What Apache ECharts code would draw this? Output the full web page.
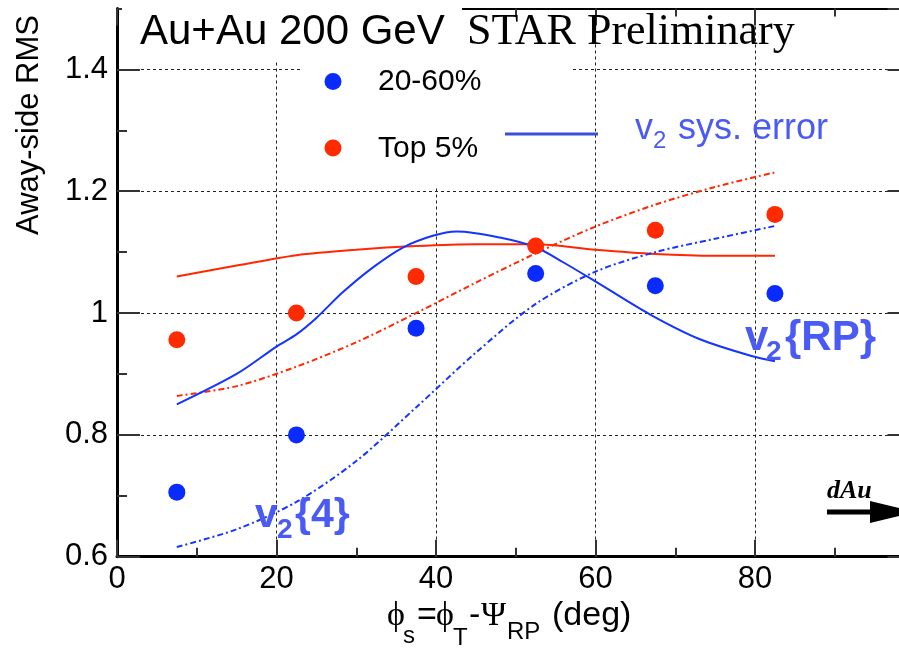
<!DOCTYPE html>
<html><head><meta charset="utf-8">
<script src="https://cdn.jsdelivr.net/npm/echarts@6/dist/echarts.min.js"></script>
<style>html,body{margin:0;padding:0;background:#fff}#c{width:899px;height:650px}</style>
</head><body><div id="c"></div>
<script>
// ---- data ----
const phiS = [7.5, 22.5, 37.5, 52.5, 67.5, 82.5];
const rmsCent2060 = [0.706, 0.800, 0.975, 1.065, 1.045, 1.032];
const rmsTop5 = [0.956, 1.000, 1.060, 1.110, 1.136, 1.162];

const top5RPx = [7.5, 15, 22.5, 30, 37.5, 45, 52.5, 60, 67.5, 75, 82.5];
const top5RPy = [1.060, 1.078, 1.095, 1.104, 1.110, 1.113, 1.113, 1.104, 1.097, 1.094, 1.094];

const top5V4x = [7.5, 15, 22.5, 30, 37.5, 45, 52.5, 60, 67.5, 75, 82.5];
const top5V4y = [0.864, 0.880, 0.912, 0.952, 1.000, 1.050, 1.098, 1.142, 1.178, 1.207, 1.231];

const centRPx = [7.5, 15, 20, 22.5, 25, 28.3, 32.1, 35.9, 39.6, 42.6, 48, 52.5, 56, 60.6, 66.8, 73.1, 79.7, 82.5];
const centRPy = [0.850, 0.900, 0.945, 0.965, 0.992, 1.034, 1.075, 1.108, 1.127, 1.134, 1.124, 1.108, 1.083, 1.047, 0.998, 0.957, 0.929, 0.921];

const centV4x = [7.5, 15, 22.5, 30, 37.5, 45, 52.5, 60, 67.5, 75, 82.5];
const centV4y = [0.616, 0.645, 0.690, 0.757, 0.845, 0.935, 1.015, 1.068, 1.100, 1.122, 1.143];

const xTicks = [0, 20, 40, 60, 80];
const yTicks = [0.6, 0.8, 1, 1.2, 1.4];

const zip = (a, b) => a.map((v, i) => [v, b[i]]);

const BLUE_DOT = '#0a2bff', RED_DOT = '#ff2a00';
const BLUE_LINE = '#1434ff', RED_LINE = '#ff2800';
const LABEL_BLUE = '#4a5af5';
const SANS = '"Liberation Sans", Arial, sans-serif';
const SERIF = '"Liberation Serif", "Times New Roman", serif';

const chart = echarts.init(document.getElementById('c'), null, {renderer: 'canvas'});

const tickStyle = {color: '#333', width: 2};
function xAx(pos, interval, len, extra) {
  return Object.assign({
    type: 'value', min: 0, max: 100, interval: interval, position: pos,
    axisLine: {show: false},
    axisTick: {show: true, inside: true, length: len, lineStyle: tickStyle},
    axisLabel: {show: false}, splitLine: {show: false}
  }, extra || {});
}
function yAx(pos, interval, len, extra) {
  return Object.assign({
    type: 'value', min: 0.6, max: 1.5, interval: interval, position: pos,
    axisLine: {show: false},
    axisTick: {show: true, inside: true, length: len, lineStyle: tickStyle},
    axisLabel: {show: false}, splitLine: {show: false}
  }, extra || {});
}
const dashed = {show: true, lineStyle: {type: [3, 3], color: '#222', width: 1}};

const option = {
  backgroundColor: '#fff',
  animation: false,
  grid: {left: 117, top: 8.5, right: -15.5, bottom: 93.3, containLabel: false, outerBoundsMode: 'none'},
  xAxis: [
    xAx('bottom', 20, 17, {
      axisLine: {show: true, onZero: false, lineStyle: {color: '#000', width: 3}},
      axisLabel: {show: true, margin: 7, fontSize: 31, fontFamily: SANS, color: '#000',
        formatter: v => xTicks.indexOf(Math.round(v)) >= 0 && Math.abs(v - Math.round(v)) < 1e-6 ? String(Math.round(v)) : ''},
      splitLine: dashed
    }),
    xAx('bottom', 10, 9),
    xAx('top', 20, 17, {axisLine: {show: true, onZero: false, lineStyle: {color: '#000', width: 2}}}),
    xAx('top', 10, 8)
  ],
  yAxis: [
    yAx('left', 0.2, 23, {
      axisLine: {show: true, onZero: false, lineStyle: {color: '#000', width: 3}},
      axisLabel: {show: true, margin: 9, fontSize: 31, fontFamily: SANS, color: '#000', padding: [4, 0, 0, 0],
        formatter: v => {
          const r = Math.round(v * 10) / 10;
          return yTicks.some(t => Math.abs(t - v) < 1e-6) ? String(r) : '';
        }},
      splitLine: dashed
    }),
    yAx('left', 0.1, 8),
    yAx('right', 0.2, 17, {offset: -10, axisLine: {show: true, onZero: false, lineStyle: {color: '#000', width: 2}}}),
    yAx('right', 0.1, 8, {offset: -10})
  ],
  series: [
    {name: 'Top 5% RP', type: 'line', data: zip(top5RPx, top5RPy), smooth: 0.3, symbol: 'none',
     lineStyle: {color: RED_LINE, width: 2}, z: 3},
    {name: 'Top 5% v2{4}', type: 'line', data: zip(top5V4x, top5V4y), smooth: 0.3, symbol: 'none',
     lineStyle: {color: RED_LINE, width: 2, type: [6, 3, 2, 3]}, z: 3},
    {name: '20-60% RP', type: 'line', data: zip(centRPx, centRPy), smooth: 0.3, symbol: 'none',
     lineStyle: {color: BLUE_LINE, width: 2}, z: 3},
    {name: '20-60% v2{4}', type: 'line', data: zip(centV4x, centV4y), smooth: 0.3, symbol: 'none',
     lineStyle: {color: BLUE_LINE, width: 2, type: [6, 3, 2, 3]}, z: 3},
    {name: '20-60%', type: 'scatter', data: zip(phiS, rmsCent2060), symbol: 'circle', symbolSize: 17,
     itemStyle: {color: BLUE_DOT, opacity: 1}, z: 4},
    {name: 'Top 5%', type: 'scatter', data: zip(phiS, rmsTop5), symbol: 'circle', symbolSize: 17,
     itemStyle: {color: RED_DOT, opacity: 1}, z: 4}
  ],
  graphic: [
    // white boxes behind title and legend
    {type: 'rect', z: 5, shape: {x: 122, y: 4, width: 340, height: 56}, style: {fill: '#fff'}},
    {type: 'rect', z: 5, shape: {x: 300, y: 60, width: 273, height: 128}, style: {fill: '#fff'}},
    {type: 'text', z: 6, style: {x: 140, y: 32, text: 'Au+Au 200 GeV', font: '42px ' + SANS, fill: '#000', verticalAlign: 'middle'}},
    {type: 'text', z: 6, style: {x: 467, y: 32, text: 'STAR Preliminary', font: '44px ' + SERIF, fill: '#000', verticalAlign: 'middle'}},
    // legend
    {type: 'circle', z: 6, shape: {cx: 333, cy: 81.5, r: 8.5}, style: {fill: BLUE_DOT}},
    {type: 'circle', z: 6, shape: {cx: 333, cy: 148, r: 8.5}, style: {fill: RED_DOT}},
    {type: 'text', z: 6, style: {x: 378, y: 82, text: '20-60%', font: '30px ' + SANS, fill: '#000', verticalAlign: 'middle'}},
    {type: 'text', z: 6, style: {x: 378, y: 149, text: 'Top 5%', font: '30px ' + SANS, fill: '#000', verticalAlign: 'middle'}},
    {type: 'line', z: 6, shape: {x1: 505, y1: 134, x2: 598, y2: 134}, style: {stroke: '#3b4fd8', lineWidth: 3}},
    {type: 'text', z: 6, style: {x: 635, y: 129.5, text: 'v', font: '36px ' + SANS, fill: LABEL_BLUE, verticalAlign: 'middle'}},
    {type: 'text', z: 6, style: {x: 653, y: 141.7, text: '2', font: '24px ' + SANS, fill: LABEL_BLUE, verticalAlign: 'middle'}},
    {type: 'text', z: 6, style: {x: 678, y: 129.5, text: 'sys. error', font: '36px ' + SANS, fill: LABEL_BLUE, verticalAlign: 'middle'}},
    // curve labels
    {type: 'text', z: 6, style: {x: 745, y: 338.4, text: 'v', font: 'bold 42px ' + SANS, fill: LABEL_BLUE, verticalAlign: 'middle'}},
    {type: 'text', z: 6, style: {x: 766, y: 352.3, text: '2', font: 'bold 28px ' + SANS, fill: LABEL_BLUE, verticalAlign: 'middle'}},
    {type: 'text', z: 6, style: {x: 785, y: 338.4, text: '{RP}', font: 'bold 42px ' + SANS, fill: LABEL_BLUE, verticalAlign: 'middle'}},
    {type: 'text', z: 6, style: {x: 255, y: 515.8, text: 'v', font: 'bold 41px ' + SANS, fill: LABEL_BLUE, verticalAlign: 'middle'}},
    {type: 'text', z: 6, style: {x: 277, y: 530.3, text: '2', font: 'bold 28px ' + SANS, fill: LABEL_BLUE, verticalAlign: 'middle'}},
    {type: 'text', z: 6, style: {x: 295, y: 515.8, text: '{4}', font: 'bold 41px ' + SANS, fill: LABEL_BLUE, verticalAlign: 'middle'}},
    // dAu arrow
    {type: 'text', z: 6, style: {x: 827, y: 491, text: 'dAu', font: 'italic bold 26px ' + SERIF, fill: '#000', verticalAlign: 'middle'}},
    {type: 'line', z: 6, shape: {x1: 827, y1: 512, x2: 872, y2: 512}, style: {stroke: '#000', lineWidth: 5}},
    {type: 'polygon', z: 6, shape: {points: [[870, 501], [870, 523], [915, 512]]}, style: {fill: '#000'}},
    // y axis title
    {type: 'text', z: 6, x: 29, y: 125, rotation: Math.PI / 2,
     style: {x: 0, y: 0, text: 'Away-side RMS', font: '31px ' + SANS, fill: '#000', align: 'center', verticalAlign: 'middle'}},
    // x axis title
    {type: 'text', z: 6, style: {x: 387, y: 616, text: 'ϕ', font: '34px ' + SERIF, fill: '#000', verticalAlign: 'middle'}},
    {type: 'text', z: 6, style: {x: 403, y: 636, text: 's', font: '24px ' + SANS, fill: '#000', verticalAlign: 'middle'}},
    {type: 'text', z: 6, style: {x: 417, y: 616, text: '=', font: '34px ' + SANS, fill: '#000', verticalAlign: 'middle'}},
    {type: 'text', z: 6, style: {x: 436, y: 616, text: 'ϕ', font: '34px ' + SERIF, fill: '#000', verticalAlign: 'middle'}},
    {type: 'text', z: 6, style: {x: 453, y: 638, text: 'T', font: '24px ' + SANS, fill: '#000', verticalAlign: 'middle'}},
    {type: 'text', z: 6, style: {x: 469, y: 616, text: '-', font: '34px ' + SANS, fill: '#000', verticalAlign: 'middle'}},
    {type: 'text', z: 6, style: {x: 481, y: 616, text: 'Ψ', font: '34px ' + SERIF, fill: '#000', verticalAlign: 'middle'}},
    {type: 'text', z: 6, style: {x: 507, y: 632, text: 'RP', font: '24px ' + SANS, fill: '#000', verticalAlign: 'middle'}},
    {type: 'text', z: 6, style: {x: 552, y: 616, text: '(deg)', font: '34px ' + SANS, fill: '#000', verticalAlign: 'middle'}}
  ]
};
chart.setOption(option);
</script>
</body></html>
